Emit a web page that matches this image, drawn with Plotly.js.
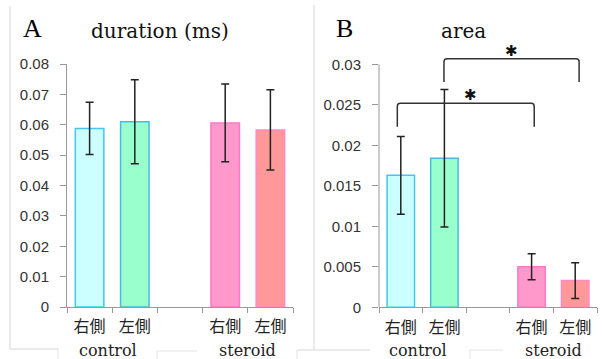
<!DOCTYPE html>
<html><head><meta charset="utf-8">
<script src="https://cdn.plot.ly/plotly-3.0.1.min.js"></script>
<style>html,body{margin:0;padding:0;background:#fff}#chart{width:602px;height:359px}</style>
</head><body><div id="chart"></div>
<script>
// ---- data ----
const categories = ['右側', '左側', ' ', '右側\u200b', '左側\u200b'];
const groupLabels = ['control', 'steroid'];
const groupCenters = [0.4, 3.5];
const durationMean = [0.0588, 0.0610, null, 0.0606, 0.0583];
const durationErr  = [0.0086, 0.0138, null, 0.0128, 0.0132];
const areaMean = [0.0163, 0.0184, null, 0.0050, 0.0033];
const areaErr  = [0.0048, 0.0085, null, 0.0016, 0.0022];
const areaTickVals = [0, 0.005, 0.01, 0.015, 0.02, 0.025, 0.03];
const areaTickText = ['0', '0.005', '0.01', '0.015', '0.02', '0.025', '0.03'];
const fillColors = ['#ccffff', '#99ffcc', '#ffffff', '#ff99cc', '#ff9999'];
const lineColors = ['#44c8ec', '#44bee0', '#ffffff', '#ff77c8', '#ff88c8'];
// significance brackets (panel B)
const bracketFrom = [-0.08, 0.99];
const bracketTo   = [3.06, 4.09];
const bracketTop  = [0.0252, 0.0307];
const bracketEnd  = [0.0223, 0.0278];
const starX = [1.59, 2.53];
const starY = [0.0262, 0.0317];

const W = 602, H = 359;
const px = v => v / W, py = v => 1 - v / H;

function barTrace(y, e, xa, ya) {
  return {
    type: 'bar', x: categories, y: y, xaxis: xa, yaxis: ya, width: 0.63,
    marker: {color: fillColors, line: {color: lineColors, width: 1.5}},
    error_y: {type: 'data', array: e, visible: true, color: '#222', thickness: 1.5, width: 4},
    hoverinfo: 'none', showlegend: false
  };
}

const xTickFont = {family: 'Noto Sans CJK JP', size: 16, color: '#222'};
const yTickFont = {family: 'Liberation Sans, Arial', size: 15, color: '#333'};
const axisGray = '#999';

const xCommon = {
  type: 'category', categoryorder: 'array', categoryarray: categories,
  tickson: 'boundaries', ticks: 'outside', ticklen: 5, tickcolor: axisGray,
  showline: true, linecolor: axisGray, linewidth: 1, showgrid: false, zeroline: false,
  tickfont: xTickFont, ticklabelstandoff: 5, range: [-0.5, 4.5]
};

const layout = {
  width: W, height: H, margin: {l: 0, r: 0, t: 0, b: 0},
  paper_bgcolor: '#fff', plot_bgcolor: 'rgba(0,0,0,0)', bargap: 0.37,
  xaxis: Object.assign({}, xCommon, {domain: [px(67), px(293)], anchor: 'y'}),
  yaxis: {domain: [py(307), py(64)], range: [0, 0.08], dtick: 0.01, tick0: 0, anchor: 'x',
    ticks: 'outside', ticklen: 6, tickcolor: axisGray, showline: true, linecolor: axisGray,
    showgrid: false, zeroline: false, tickfont: yTickFont, ticklabelstandoff: 8},
  xaxis2: Object.assign({}, xCommon, {domain: [px(379), px(597)], anchor: 'y2'}),
  yaxis2: {domain: [py(307.3), py(48.1)], range: [0, 0.032], tickmode: 'array',
    tickvals: areaTickVals, ticktext: areaTickText, anchor: 'x2',
    ticks: 'outside', ticklen: 6, tickcolor: axisGray, showline: false,
    showgrid: false, zeroline: false, tickfont: yTickFont, ticklabelstandoff: 8},
  shapes: [
    {type: 'line', xref: 'x2 domain', yref: 'y2', x0: 0, x1: 0, y0: 0, y1: areaTickVals[areaTickVals.length - 1],
     line: {color: axisGray, width: 1}},
    {type: 'line', xref: 'paper', yref: 'paper', x0: px(10), x1: px(10), y0: py(6), y1: py(349), line: {color: '#d6d6d6', width: 1}},
    {type: 'line', xref: 'paper', yref: 'paper', x0: px(10), x1: px(58), y0: py(349), y1: py(349), line: {color: '#d6d6d6', width: 1}},
    {type: 'line', xref: 'paper', yref: 'paper', x0: px(58), x1: px(58), y0: py(349), y1: py(359), line: {color: '#e2e2e2', width: 1}},
    {type: 'line', xref: 'paper', yref: 'paper', x0: px(157), x1: px(197), y0: py(351), y1: py(351), line: {color: '#e2e2e2', width: 1}},
    {type: 'line', xref: 'paper', yref: 'paper', x0: px(157), x1: px(157), y0: py(351), y1: py(359), line: {color: '#e2e2e2', width: 1}},
    {type: 'line', xref: 'paper', yref: 'paper', x0: px(314), x1: px(314), y0: py(5), y1: py(350), line: {color: '#d6d6d6', width: 1}},
    {type: 'line', xref: 'paper', yref: 'paper', x0: px(297), x1: px(370), y0: py(350), y1: py(350), line: {color: '#d6d6d6', width: 1}},
    {type: 'line', xref: 'paper', yref: 'paper', x0: px(297), x1: px(297), y0: py(350), y1: py(359), line: {color: '#e2e2e2', width: 1}},
    {type: 'line', xref: 'paper', yref: 'paper', x0: px(470), x1: px(503), y0: py(350), y1: py(350), line: {color: '#e2e2e2', width: 1}},
    {type: 'line', xref: 'paper', yref: 'paper', x0: px(470), x1: px(470), y0: py(350), y1: py(359), line: {color: '#e2e2e2', width: 1}}
  ],
  annotations: [
    {text: 'A', xref: 'paper', yref: 'paper', x: px(32), y: py(28), xanchor: 'center', yanchor: 'middle', showarrow: false,
     font: {family: 'Liberation Serif, serif', size: 26, color: '#000'}},
    {text: 'duration (ms)', xref: 'paper', yref: 'paper', x: px(160), y: py(31), xanchor: 'center', yanchor: 'middle', showarrow: false,
     font: {family: 'DejaVu Serif, serif', size: 20, color: '#111'}},
    {text: 'B', xref: 'paper', yref: 'paper', x: px(344), y: py(28), xanchor: 'center', yanchor: 'middle', showarrow: false,
     font: {family: 'Liberation Serif, serif', size: 26, color: '#000'}},
    {text: 'area', xref: 'paper', yref: 'paper', x: px(463), y: py(31), xanchor: 'center', yanchor: 'middle', showarrow: false,
     font: {family: 'DejaVu Serif, serif', size: 20, color: '#111'}}
  ]
};

['x', 'x2'].forEach(xa => {
  groupLabels.forEach((g, i) => {
    layout.annotations.push({text: g, xref: xa, yref: 'paper', x: groupCenters[i], y: py(350),
      xanchor: 'center', yanchor: 'middle', showarrow: false,
      font: {family: 'DejaVu Serif, serif', size: 16, color: '#222'}});
  });
});

for (let i = 0; i < bracketFrom.length; i++) {
  const x0 = bracketFrom[i], x1 = bracketTo[i], yt = bracketTop[i], ye = bracketEnd[i];
  const rx = 0.07, ry = 0.0004;
  const path = `M ${x0},${ye} L ${x0},${yt - ry} Q ${x0},${yt} ${x0 + rx},${yt} L ${x1 - rx},${yt} Q ${x1},${yt} ${x1},${yt - ry} L ${x1},${ye}`;
  layout.shapes.push({type: 'path', xref: 'x2', yref: 'y2', path: path, line: {color: '#333', width: 1.5}});
  layout.annotations.push({text: '✱', xref: 'x2', yref: 'y2', x: starX[i], y: starY[i], showarrow: false,
    xanchor: 'center', yanchor: 'middle',
    font: {family: 'DejaVu Sans', size: 15, color: '#111'}});
}

Plotly.newPlot('chart', [
  barTrace(durationMean, durationErr, 'x', 'y'),
  barTrace(areaMean, areaErr, 'x2', 'y2')
], layout, {staticPlot: true, displayModeBar: false});
</script></body></html>
